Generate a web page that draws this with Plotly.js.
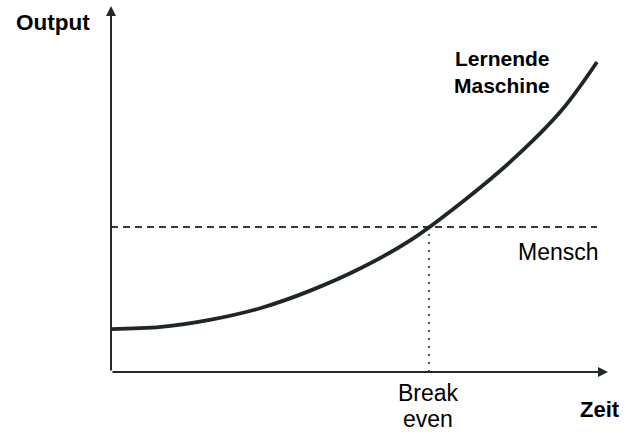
<!DOCTYPE html>
<html>
<head>
<meta charset="utf-8">
<script src="https://cdn.plot.ly/plotly-3.0.1.min.js"></script>
<style>html,body{margin:0;padding:0;background:#fff;}#chart{width:627px;height:435px;}</style>
</head>
<body>
<div id="chart"></div>
<script>
// Data (arbitrary units: time 0..100, output 0..100)
const zeit = [0, 10, 20, 30, 40, 50, 60, 70, 80, 90, 97.2];
const maschine = [11.7, 12.3, 14.3, 17.5, 22.3, 28.4, 36.1, 46.2, 57.6, 71.3, 84.7];
const menschLevel = 39.6;
const menschX = [0, 97.2];
const breakEvenX = 63.6;
const xAxisEnd = 99.4;
const yAxisEnd = 100;

const lineColor = '#222a2a';
const FONT = 'Liberation Sans, Arial, sans-serif';

const traces = [
  {
    x: menschX, y: menschX.map(() => menschLevel),
    mode: 'lines', line: {color: '#333838', width: 2, dash: '7px,5px'},
    hoverinfo: 'skip', showlegend: false
  },
  {
    x: [breakEvenX, breakEvenX], y: [0, menschLevel],
    mode: 'lines', line: {color: '#555a5a', width: 2, dash: '2px,6px'},
    hoverinfo: 'skip', showlegend: false
  },
  {
    x: zeit, y: maschine,
    mode: 'lines', line: {color: '#1e2626', width: 3.8, shape: 'spline', smoothing: 1},
    hoverinfo: 'skip', showlegend: false
  }
];

// pixel helpers for label placement (plot area: x 111..611, y 372..6)
const px = v => (v - 111) / 500;
const py = v => (372 - v) / 366;

const annotations = [
  // axes with arrows
  {x: xAxisEnd, y: 0, ax: 0, ay: 0, xref: 'x', yref: 'y', axref: 'x', ayref: 'y',
   showarrow: true, arrowhead: 2, arrowsize: 1, arrowwidth: 2, arrowcolor: lineColor, text: ''},
  {x: 0, y: yAxisEnd, ax: 0, ay: 0, xref: 'x', yref: 'y', axref: 'x', ayref: 'y',
   showarrow: true, arrowhead: 2, arrowsize: 1, arrowwidth: 2, arrowcolor: lineColor, text: ''},
  // labels
  {text: '<b>Output</b>', x: px(53), y: py(22), xref: 'paper', yref: 'paper',
   xanchor: 'center', yanchor: 'middle', showarrow: false, font: {family: FONT, size: 22.5, color: '#000'}},
  {text: '<b>Zeit</b>', x: px(600), y: py(409), xref: 'paper', yref: 'paper',
   xanchor: 'center', yanchor: 'middle', showarrow: false, font: {family: FONT, size: 22, color: '#000'}},
  {text: '<b>Lernende</b>', x: px(552), y: py(58), xref: 'paper', yref: 'paper',
   xanchor: 'right', yanchor: 'middle', showarrow: false, font: {family: FONT, size: 21, color: '#000'}},
  {text: '<b>Maschine</b>', x: px(552), y: py(85), xref: 'paper', yref: 'paper',
   xanchor: 'right', yanchor: 'middle', showarrow: false, font: {family: FONT, size: 21, color: '#000'}},
  {text: 'Mensch', x: px(558), y: py(252), xref: 'paper', yref: 'paper',
   xanchor: 'center', yanchor: 'middle', showarrow: false, font: {family: FONT, size: 23, color: '#000'}},
  {text: 'Break', x: px(428), y: py(393), xref: 'paper', yref: 'paper',
   xanchor: 'center', yanchor: 'middle', showarrow: false, font: {family: FONT, size: 23, color: '#000'}},
  {text: 'even', x: px(428), y: py(419), xref: 'paper', yref: 'paper',
   xanchor: 'center', yanchor: 'middle', showarrow: false, font: {family: FONT, size: 23, color: '#000'}}
];

const axisCommon = {showgrid: false, zeroline: false, showline: false, showticklabels: false,
  ticks: '', fixedrange: true};

const layout = {
  width: 627, height: 435,
  margin: {l: 111, r: 16, t: 6, b: 63, pad: 0},
  paper_bgcolor: '#fff', plot_bgcolor: '#fff',
  xaxis: Object.assign({range: [0, 100]}, axisCommon),
  yaxis: Object.assign({range: [0, 100]}, axisCommon),
  annotations: annotations,
  showlegend: false
};

Plotly.newPlot('chart', traces, layout, {displayModeBar: false, staticPlot: true});
</script>
</body>
</html>
